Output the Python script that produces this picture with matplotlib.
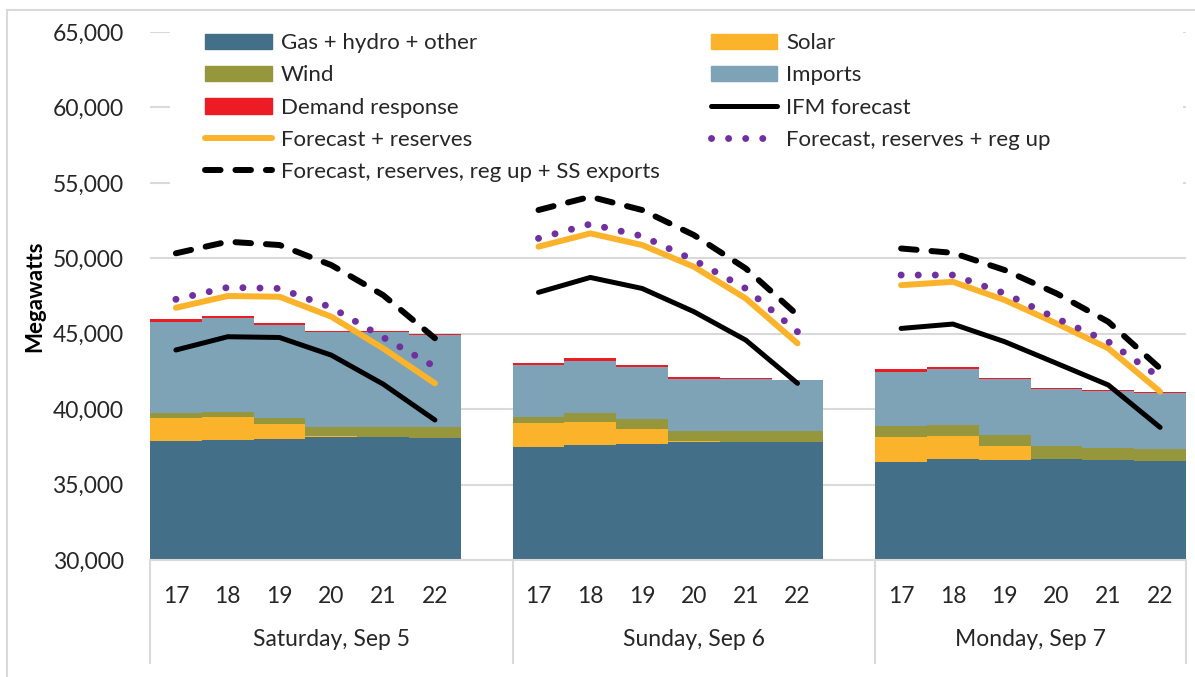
import numpy as np
import matplotlib.pyplot as plt
from matplotlib.patches import Rectangle, Patch
from matplotlib.lines import Line2D
import matplotlib.transforms as mtransforms

plt.rcParams['font.family'] = ['Lato', 'DejaVu Sans']

# hours and days
hours = ['17', '18', '19', '20', '21', '22']
days = ['Saturday, Sep 5', 'Sunday, Sep 6', 'Monday, Sep 7']

# stacked supply (MW), one list per day
gas_sat = [37900, 37970, 38020, 38130, 38150, 38060]
solar_sat = [1500, 1530, 970, 90, 0, 0]
wind_sat = [330, 330, 420, 590, 660, 750]
imports_sat = [6050, 6180, 6200, 6280, 6280, 6120]
dr_sat = [220, 150, 130, 90, 70, 60]

gas_sun = [37470, 37620, 37690, 37800, 37800, 37800]
solar_sun = [1610, 1550, 970, 110, 0, 0]
wind_sun = [420, 600, 680, 660, 770, 770]
imports_sun = [3400, 3420, 3470, 3400, 3400, 3360]
dr_sun = [180, 180, 90, 150, 100, 20]

gas_mon = [36510, 36690, 36600, 36690, 36630, 36580]
solar_mon = [1620, 1530, 930, 0, 0, 0]
wind_mon = [750, 730, 750, 840, 790, 780]
imports_mon = [3600, 3690, 3700, 3780, 3780, 3710]
dr_mon = [150, 180, 70, 60, 80, 60]

# forecast lines (MW)
ifm_sat = [43920, 44800, 44750, 43580, 41660, 39280]
fr_sat = [46720, 47500, 47450, 46130, 44030, 41710]
frr_sat = [47280, 48070, 48000, 46740, 44760, 42810]
ss_sat = [50330, 51100, 50880, 49550, 47560, 44700]

ifm_sun = [47740, 48730, 48000, 46460, 44580, 41710]
fr_sun = [50770, 51650, 50880, 49440, 47340, 44360]
frr_sun = [51320, 52270, 51470, 49880, 48000, 45130]
ss_sun = [53200, 54080, 53200, 51540, 49330, 46240]

ifm_mon = [45350, 45640, 44470, 43040, 41600, 38790]
fr_mon = [48220, 48440, 47230, 45680, 44030, 41160]
frr_mon = [48890, 48890, 47670, 46010, 44470, 42100]
ss_mon = [50650, 50360, 49220, 47670, 45790, 42700]


def join(a, b, c):
    # one empty slot between the days
    return np.array(a + [np.nan] + b + [np.nan] + c, dtype=float)


gas = join(gas_sat, gas_sun, gas_mon)
solar = join(solar_sat, solar_sun, solar_mon)
wind = join(wind_sat, wind_sun, wind_mon)
imports = join(imports_sat, imports_sun, imports_mon)
dr = join(dr_sat, dr_sun, dr_mon)
ifm = join(ifm_sat, ifm_sun, ifm_mon)
fr = join(fr_sat, fr_sun, fr_mon)
frr = join(frr_sat, frr_sun, frr_mon)
ss = join(ss_sat, ss_sun, ss_mon)
x = np.arange(len(gas))

c_gas = '#446f88'
c_solar = '#fbb32b'
c_wind = '#96963c'
c_imp = '#7ea3b6'
c_dr = '#ed1c24'
c_purple = '#7030a0'
grey = '#d9d9d9'
txt = '#262626'

fig = plt.figure(figsize=(11.95, 6.77), dpi=100)
ax = fig.add_axes([150/1195, 1-560/677, 1036/1195, 528/677])

valid = ~np.isnan(gas)
bottom = np.zeros(len(gas))
for vals, col in [(gas, c_gas), (solar, c_solar), (wind, c_wind), (imports, c_imp), (dr, c_dr)]:
    v = np.nan_to_num(vals)
    ax.bar(x[valid], v[valid], width=1.0, bottom=bottom[valid], color=col, linewidth=0, zorder=2)
    bottom += v

ax.plot(x, ifm, color='black', lw=3.6, solid_capstyle='round', zorder=3)
ax.plot(x, fr, color=c_solar, lw=4.3, solid_capstyle='round', zorder=4)
ax.plot(x, frr, color=c_purple, lw=5, linestyle=(0, (0.01, 2.45)), dash_capstyle='round', zorder=5)
ax.plot(x, ss, color='black', lw=4.3, linestyle=(0, (2.6, 2.5)), dash_capstyle='round', zorder=6)

ax.set_xlim(-0.5, 19.5)
ax.set_ylim(30000, 65000)
ax.set_yticks(np.arange(30000, 65001, 5000))
ax.set_yticklabels([f'{v:,}' for v in range(30000, 65001, 5000)], fontsize=16.5, color=txt)
ax.tick_params(axis='y', length=0, pad=19)
ax.set_xticks([])
ax.grid(axis='y', color=grey, lw=1.5, zorder=0)
ax.set_axisbelow(True)
for s in ['left', 'right', 'top']:
    ax.spines[s].set_visible(False)
ax.spines['bottom'].set_color(grey)
ax.spines['bottom'].set_linewidth(1.5)
ax.set_ylabel('Megawatts', fontsize=16, fontweight='bold', labelpad=5)

# hour and day labels under the axis
tr = mtransforms.blended_transform_factory(ax.transData, ax.transAxes)
day_centres = [3.0, 10.0, 16.5]
for d in range(3):
    start = d * 7
    for i, h in enumerate(hours):
        ax.text(start + i, -0.07, h, transform=tr, ha='center', va='center', fontsize=16.5, color=txt)
    ax.text(day_centres[d], -0.1515, days[d], transform=tr, ha='center', va='center',
            fontsize=16.5, color=txt)
for xs in [-0.5, 6.5, 13.5, 19.5]:
    ax.plot([xs, xs], [0, -0.195], transform=tr, color=grey, lw=1.5, clip_on=False)

# white box behind the legend
ax.add_patch(Rectangle((20/1036, 0.70), 1013/1036, 0.36, transform=ax.transAxes,
                       facecolor='white', edgecolor='none', zorder=1, clip_on=False))

handles = [
    Patch(color=c_gas, label='Gas + hydro + other'),
    Patch(color=c_wind, label='Wind'),
    Patch(color=c_dr, label='Demand response'),
    Line2D([], [], color=c_solar, lw=4.3, solid_capstyle='round', label='Forecast + reserves'),
    Line2D([], [], color='black', lw=4.3, linestyle=(0, (2.6, 2.5)), dash_capstyle='round',
           label='Forecast, reserves, reg up + SS exports'),
    Patch(color=c_solar, label='Solar'),
    Patch(color=c_imp, label='Imports'),
    Line2D([], [], color='black', lw=3.6, solid_capstyle='round', label='IFM forecast'),
    Line2D([], [], color=c_purple, lw=5, linestyle=(0, (0.01, 2.45)), dash_capstyle='round',
           label='Forecast, reserves + reg up'),
]
leg = ax.legend(handles=handles, ncol=2, loc='upper left', bbox_to_anchor=(55/1036, 0.998),
                frameon=False, fontsize=16, handlelength=3.0, handletextpad=0.4,
                columnspacing=2.3, labelspacing=0.55, borderpad=0, borderaxespad=0)
for t in leg.get_texts():
    t.set_color(txt)

# chart border
fig.patches.append(Rectangle((7/1195, -0.1), 2, 1.1 - 10/677, transform=fig.transFigure,
                             facecolor='none', edgecolor=grey, lw=1.5))

fig.savefig('out.png', dpi=100)
